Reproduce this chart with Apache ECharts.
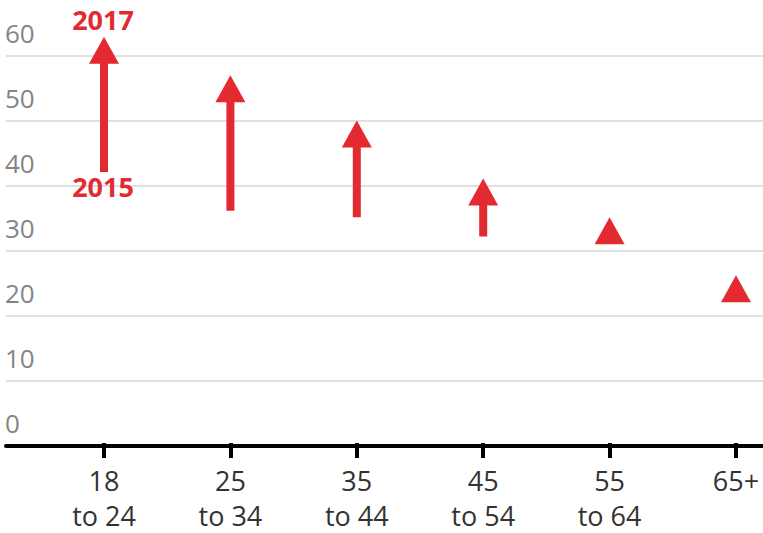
<!DOCTYPE html>
<html>
<head>
<meta charset="utf-8">
<script src="https://cdn.jsdelivr.net/npm/echarts@6/dist/echarts.min.js"></script>
<style>
html,body{margin:0;padding:0;background:#fff;}
#chart{width:763px;height:533px;}
</style>
</head>
<body>
<div id="chart"></div>
<script>
// ---- data ----
const categories = ['18\nto 24', '25\nto 34', '35\nto 44', '45\nto 54', '55\nto 64', '65+'];
const values2015 = [42, 36, 35, 32, 31, 22];
const values2017 = [63, 57, 50, 41, 35, 26];
const yearFrom = '2015';
const yearTo = '2017';
const yMin = 0, yMax = 60, yStep = 10;

// ---- styles ----
const RED = '#e32a30';
const FONT = 'Open Sans';

const chart = echarts.init(document.getElementById('chart'), null, {renderer: 'svg'});

const arrowData = categories.map((c, i) => [i, values2015[i], values2017[i]]);

function renderArrow(params, api) {
  const x = api.value(0);
  const pFrom = api.coord([x, api.value(1)]);
  const pTo = api.coord([x, api.value(2)]);
  const cx = pTo[0];
  const headLen = 27, headW = 30, shaftW = 8;
  const tipY = pTo[1];
  const baseY = tipY + headLen;
  const bottomY = Math.max(pFrom[1], baseY);
  const children = [{
    type: 'polygon',
    shape: {points: [
      [cx - shaftW / 2, bottomY], [cx - shaftW / 2, baseY], [cx - headW / 2, baseY],
      [cx, tipY], [cx + headW / 2, baseY], [cx + shaftW / 2, baseY], [cx + shaftW / 2, bottomY]
    ]},
    style: {fill: RED}
  }];
  if (params.dataIndex === 0) {
    children.push({
      type: 'text', x: cx - 1, y: tipY - 4,
      style: {text: yearTo, fill: RED, font: 'bold 27px "' + FONT + '"', align: 'center', verticalAlign: 'bottom'}
    });
    children.push({
      type: 'text', x: cx - 1, y: pFrom[1] + 1,
      style: {text: yearFrom, fill: RED, font: 'bold 27px "' + FONT + '"', align: 'center', verticalAlign: 'top'}
    });
  }
  return {type: 'group', children};
}

chart.setOption({
  animation: false,
  backgroundColor: '#fff',
  grid: [
    {left: 6, right: 0, top: 56, bottom: 87},
    {left: 104, right: 27, top: 56, bottom: 87}
  ],
  xAxis: [
    {
      gridIndex: 0, type: 'value', min: 0, max: 1,
      axisLine: {show: true, onZero: false, lineStyle: {color: '#000', width: 4}},
      axisTick: {show: false}, axisLabel: {show: false}, splitLine: {show: false}
    },
    {
      gridIndex: 1, type: 'category', data: categories, boundaryGap: false,
      axisLine: {show: false},
      axisTick: {show: true, length: 15, lineStyle: {color: '#000', width: 4}},
      axisLabel: {margin: 20, color: '#333', fontFamily: FONT, fontSize: 27, lineHeight: 35, interval: 0},
      splitLine: {show: false}
    }
  ],
  yAxis: [
    {
      gridIndex: 0, type: 'value', min: yMin, max: yMax, interval: yStep,
      axisLine: {show: false}, axisTick: {show: false},
      axisLabel: {inside: true, margin: -1, color: '#858585', fontFamily: FONT, fontSize: 26,
        verticalAlign: 'bottom', lineHeight: 30, padding: [0, 0, 8, 0]},
      splitLine: {show: true, lineStyle: {color: '#e0e0e0', width: 2}}
    },
    {
      gridIndex: 1, type: 'value', min: yMin, max: yMax, interval: yStep,
      show: false
    }
  ],
  series: [{
    type: 'custom',
    xAxisIndex: 1, yAxisIndex: 1,
    data: arrowData,
    encode: {x: 0, y: [1, 2]},
    clip: false,
    renderItem: renderArrow
  }]
});
</script>
</body>
</html>
